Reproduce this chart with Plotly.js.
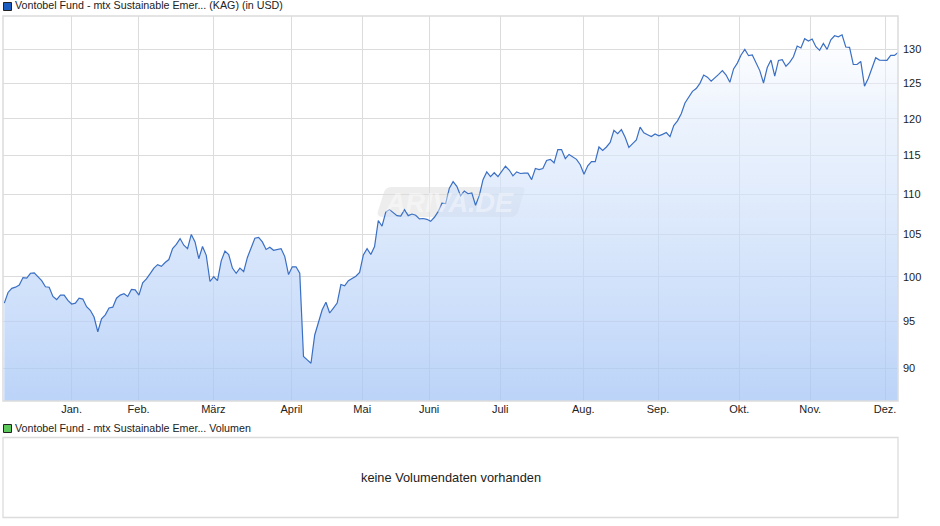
<!DOCTYPE html>
<html><head><meta charset="utf-8">
<script src="https://cdn.plot.ly/plotly-3.0.1.min.js"></script>
<style>html,body{margin:0;padding:0;background:#fff}#c{width:940px;height:526px}</style>
</head><body><div id="c"></div>
<script>
const prices = [
97.0,98.2,98.67,98.8,99.04,99.9,99.85,100.4,100.45,100.05,99.55,98.85,98.8,97.75,97.4,97.9,97.9,97.3,96.9,97.0,
97.55,97.45,96.6,96.2,95.45,93.85,95.25,95.7,96.45,96.55,97.55,97.9,98.05,97.75,98.55,98.5,97.9,99.3,99.75,100.35,
101.0,101.4,101.2,101.65,102.0,103.3,103.8,104.5,103.7,103.3,105.0,104.1,102.1,103.55,102.5,99.45,100,99.55,101.85,103,
102.6,101,100.4,101,100.6,102.25,103.4,104.55,104.65,104.1,103.2,103.45,103.1,103.2,103.3,102.35,100.25,101.15,101.15,100.4,
91.2,90.85,90.5,93.5,94.9,
96.25,97.1,95.9,96.45,97,99.1,98.95,99.55,99.8,100.05,100.5,102.55,103.3,102.6,103.55,106.7,106,107.75,108.05,107.65,
107.3,107.25,108.05,107.3,107.5,107.35,106.9,106.95,106.85,106.6,107.1,107.8,108.85,108.8,110.75,111.6,111,109.8,110.4,110.05,
110.15,108.6,109.8,111.85,112.85,112.25,112.75,112.25,112.9,113.6,113.1,112.35,112.85,112.65,112.7,112.7,111.85,113.3,113.15,113.3,
114.35,114.5,114.05,115.8,115.8,114.6,115.15,114.85,114.5,113.8,112.55,113.65,114.2,114.2,116.15,115.7,116.15,116.75,118.4,117.95,
118.5,117.45,116.1,116.6,117.1,118.85,118.05,117.8,117.55,117.9,117.65,117.85,118.1,117.55,119.05,119.7,120.7,122.2,123,123.85,
124.25,125,126.2,125.9,125.3,125.75,126.3,126.85,126.2,125.15,127.1,127.95,129.15,130,129.05,129.15,127.95,126.85,125.05,127.3,
128.4,126.05,128.35,128.45,127.5,128.05,128.9,130.5,130.2,131.6,131.25,131.55,130.4,129.85,130.9,130,131.45,132.05,131.9,132.2,
130.35,130.3,127.75,127.75,128.2,124.6,125.7,127.15,128.75,128.4,128.35,128.35,129.1,129.1,129.55
];
const monthLabels = ["Jan.","Feb.","März","April","Mai","Juni","Juli","Aug.","Sep.","Okt.","Nov.","Dez."];
const monthTicks = [18.0,35.9,55.9,76.8,95.7,113.6,132.6,154.8,174.8,196.5,215.5,235.5];
const priceTicks = [90,95,100,105,110,115,120,125,130];
const tradingDays = prices.map((_, i) => i);

const W = 940, H = 526;
const px = x => x / W, py = y => 1 - y / H;
const plotLeft = 3, plotRight = 898, plotTop = 16, plotBottom = 401;
const step = 3.74, firstPx = 4.3;
const axisMin = 86.64, axisMax = 135.1;
const grid = '#dcdcdc';
const family = '"Liberation Sans", Arial, sans-serif';
const font = {family:family, size:10.7, color:'#222'};
const tickFont = {family:family, size:11, color:'#222'};

function box(x0,y0,x1,y1,fill,line,w){
  return {type:'rect',xref:'paper',yref:'paper',x0:px(x0),x1:px(x1),y0:py(y1),y1:py(y0),
    fillcolor:fill,line:{color:line,width:w===undefined?1:w},layer:'above'};
}
function label(x,y,t,anchor,f){
  return {xref:'paper',yref:'paper',x:px(x),y:py(y),text:t,showarrow:false,xanchor:anchor||'left',yanchor:'middle',font:f||font};
}

const trace = {
  x: tradingDays, y: prices, type:'scatter', mode:'lines',
  line:{color:'#3a6fc4',width:1.2,shape:'linear'},
  fill:'tozeroy',
  fillgradient:{type:'vertical',start:axisMin,stop:axisMax,
    colorscale:[[0,'rgba(165,197,246,0.75)'],[0.75,'rgba(225,236,252,0.6)'],[1,'rgba(255,255,255,0.3)']]},
  hoverinfo:'skip'
};
const layout = {
  width:W,height:H,margin:{l:0,r:0,t:0,b:0},paper_bgcolor:'#fff',plot_bgcolor:'#fff',showlegend:false,font:font,
  xaxis:{domain:[px(plotLeft),px(plotRight)],range:[-(firstPx-plotLeft)/step,(plotRight-firstPx)/step],
    tickmode:'array',tickvals:monthTicks,ticktext:monthLabels,ticks:'',showgrid:true,gridcolor:grid,gridwidth:1,
    zeroline:false,showline:false,tickangle:0,tickfont:tickFont},
  yaxis:{domain:[py(plotBottom),py(plotTop)],type:'log',range:[Math.log10(axisMin),Math.log10(axisMax)],side:'right',
    tickmode:'array',tickvals:priceTicks,ticktext:priceTicks.map(String),ticks:'',showgrid:true,gridcolor:grid,gridwidth:1,
    zeroline:false,showline:false,tickfont:tickFont,ticklabelstandoff:4},
  shapes:[
    box(plotLeft,plotTop,plotRight,plotBottom,'rgba(0,0,0,0)',grid,1.5),
    box(3.5,2.5,11.5,10.5,'#1a5cbf','#222',1),
    box(3.5,424.5,11.5,432.5,'#5cc85c','#222',1),
    box(plotLeft,437.5,plotRight,517.5,'#fff',grid,1.3),
    {type:'path',xref:'paper',yref:'paper',layer:'below',fillcolor:'rgba(150,150,150,0.17)',line:{width:0},
     path:['M',px(392),py(187),'L',px(521),py(187),'Q',px(526),py(187),px(524),py(192),'L',px(518),py(212),'Q',px(516),py(217),px(510),py(217),'L',px(383),py(217),'Q',px(376),py(217),px(378),py(211),'L',px(384),py(192),'Q',px(386),py(187),px(392),py(187),'Z'].join(' ')}
  ],
  annotations:[
    label(13,5.5,'Vontobel Fund - mtx Sustainable Emer... (KAG) (in USD)'),
    label(13,427.5,'Vontobel Fund - mtx Sustainable Emer... Volumen'),
    label(451,477.5,'keine Volumendaten vorhanden','center',{family:family,size:12.8,color:'#222'}),
    {xref:'paper',yref:'paper',x:px(449),y:py(203),text:'<b><i>ARIVA.DE</i></b>',showarrow:false,xanchor:'center',yanchor:'middle',
     font:{family:family,size:27,color:'rgba(255,255,255,0.42)'}}
  ]
};
Plotly.newPlot('c',[trace],layout,{displayModeBar:false,staticPlot:true});
</script></body></html>
